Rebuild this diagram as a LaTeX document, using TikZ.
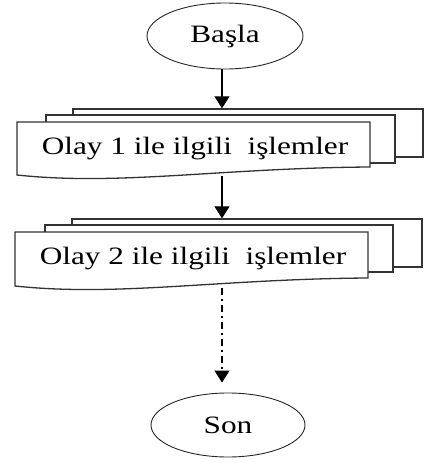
\documentclass[tikz,border=0pt]{standalone}
\usepackage{fontspec}
\setmainfont[FakeStretch=1.25]{Liberation Serif}
\usetikzlibrary{shapes.geometric,arrows.meta}

\begin{document}
\begin{tikzpicture}[x=1pt,y=-1pt,
  font=\fontsize{25}{29}\selectfont,
  term/.style={draw=black!85, ellipse, line width=0.9pt, minimum width=156pt, minimum height=66pt, inner sep=0pt},
  box/.style={draw=black!80, line width=1.3pt, fill=white},
  arr/.style={line width=1.2pt, -{Triangle[width=15pt,length=12pt]}}]
\useasboundingbox (0,0) rectangle (424,463);
\node[term] (1) at (225,36) {Başla};
% olay 1
\node[box, minimum width=350pt, minimum height=48pt] (2b) at (248,133) {};
\node[box, minimum width=349pt, minimum height=48pt] (2m) at (220.5,139) {};
\path[box] (17,122) -- (370,122) -- (370,167)
  .. controls (220,168) and (120,186) .. (17,175) -- cycle;
\node[minimum width=353pt, minimum height=53pt, inner sep=0pt] (2) at (195,148.5) {Olay 1 ile ilgili\ \ işlemler};
% olay 2
\node[box, minimum width=350pt, minimum height=48pt] (3b) at (247,243) {};
\node[box, minimum width=348pt, minimum height=47pt] (3m) at (219,248.5) {};
\path[box] (15,232) -- (368,232) -- (368,278)
  .. controls (218,279) and (118,297) .. (15,286) -- cycle;
\node[minimum width=353pt, minimum height=54pt, inner sep=0pt] (3) at (193,259) {Olay 2 ile ilgili\ \ işlemler};
% son
\node[term, minimum width=154pt, minimum height=64pt] (4) at (228,425) {Son};
\path[draw,arr] (1.south -| 222,0) -- (2b.north -| 222,0);
\path[draw,arr] ([yshift=-1pt]2.south -| 222,0) -- (3b.north -| 222,0);
\path[draw,arr,dash pattern=on 7pt off 4pt on 2pt off 4pt,shorten >=10pt] ([yshift=-2pt]3.south -| 222,0) -- (4.north -| 222,0);
\end{tikzpicture}
\end{document}
